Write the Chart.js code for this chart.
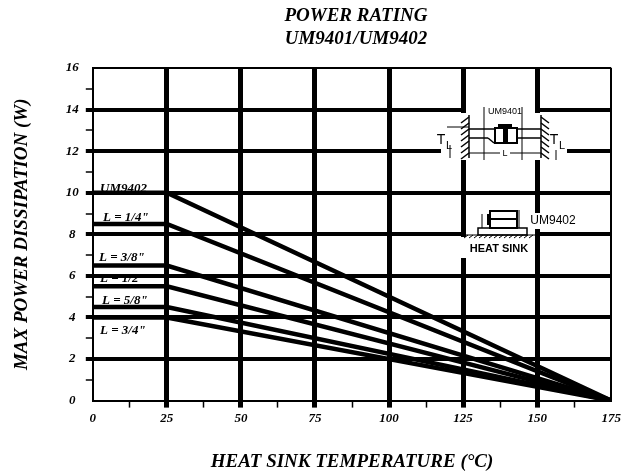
<!DOCTYPE html>
<html>
<head>
<meta charset="utf-8">
<title>Power rating</title>
<script src="https://cdn.jsdelivr.net/npm/chart.js@4"></script>
<style>
    html, body { margin: 0; padding: 0; background: #fff; }
    #wrap { width: 624px; height: 476px; }
</style>
</head>
<body>
<div id="wrap"><canvas id="power_chart" width="624" height="476"></canvas></div>
<script>
/////////////////////////////////// DATA ///////////////////////////////////
const temperature = [0, 25, 175];

const um9402 = [10, 10, 0];
const l_1_4 = [8.5, 8.5, 0];
const l_3_8 = [6.5, 6.5, 0];
const l_1_2 = [5.5, 5.5, 0];
const l_5_8 = [4.5, 4.5, 0];
const l_3_4 = [4, 4, 0];

const seriesNames = ['UM9402', 'L = 1/4"', 'L = 3/8"', 'L = 1/2"', 'L = 5/8"', 'L = 3/4"'];
const seriesValues = [um9402, l_1_4, l_3_8, l_1_2, l_5_8, l_3_4];

const titleLines = ['POWER RATING', 'UM9401/UM9402'];
const xTitle = 'HEAT SINK TEMPERATURE (°C)';
const yTitle = 'MAX POWER DISSIPATION (W)';

/////////////////////////////////// STYLE ///////////////////////////////////
const SERIF = '"Liberation Serif", serif';
const SANS = '"Liberation Sans", sans-serif';
const INK = '#000';

// label position next to each flat part: [left px, centre px]
const labelSpots = [[100, 189], [103, 218], [99, 258], [100, 279], [102, 301], [100, 331]];

/////////////////////////////////// PLUGINS ///////////////////////////////////
// curve names go under the grid, the scan has the grid lines over them
const curveLabels = {
    id: 'curveLabels',
    beforeDraw(chart) {
        const ctx = chart.ctx;
        ctx.save();
        ctx.fillStyle = INK;
        ctx.font = 'italic bold 13px ' + SERIF;
        ctx.textBaseline = 'middle';
        seriesNames.forEach((name, i) => ctx.fillText(name, labelSpots[i][0], labelSpots[i][1]));

        // title sits right of the plot centre in the scan, so not the title plugin
        ctx.font = 'italic bold 19px ' + SERIF;
        ctx.textAlign = 'center';
        ctx.fillText(titleLines[0], 356, 16);
        ctx.fillText(titleLines[1], 356, 39);
        ctx.restore();
    }
};

function hatch(ctx, x1, x2, y, dx, dy, step) {
    for (let x = x1; x <= x2; x += step) {
        ctx.beginPath();
        ctx.moveTo(x, y);
        ctx.lineTo(x + dx, y + dy);
        ctx.stroke();
    }
}

function line(ctx, x1, y1, x2, y2) {
    ctx.beginPath();
    ctx.moveTo(x1, y1);
    ctx.lineTo(x2, y2);
    ctx.stroke();
}

// the two mounting sketches pasted over the grid
const insetSketch = {
    id: 'insetSketch',
    afterDraw(chart) {
        const ctx = chart.ctx;
        ctx.save();
        ctx.fillStyle = '#fff';
        ctx.fillRect(466, 104, 69, 61);
        ctx.fillRect(441, 113, 126, 47);
        ctx.fillRect(466, 205, 69, 53);
        ctx.fillRect(459, 237, 76, 21);
        ctx.fillRect(528, 213, 50, 16);

        ctx.strokeStyle = INK;
        ctx.fillStyle = INK;
        ctx.lineWidth = 1.5;

        // walls
        line(ctx, 469, 115, 469, 158);
        line(ctx, 541, 115, 541, 158);
        for (let y = 117; y <= 157; y += 6) {
            line(ctx, 469, y, 461, y + 6);
            line(ctx, 541, y, 549, y + 6);
        }

        // leads
        line(ctx, 469, 129, 494, 129);
        line(ctx, 469, 138, 488, 138);
        line(ctx, 488, 138, 494, 143);
        line(ctx, 517, 129, 541, 129);
        line(ctx, 517, 138, 541, 138);

        // diode body
        ctx.lineWidth = 2;
        ctx.strokeRect(495, 128, 22, 15);
        ctx.fillRect(498, 124, 14, 4);
        ctx.fillRect(503, 129, 5, 13);

        // dimensions
        ctx.lineWidth = 1;
        line(ctx, 484, 107, 484, 160);
        line(ctx, 522, 107, 522, 160);
        line(ctx, 469, 153, 500, 153);
        line(ctx, 510, 153, 541, 153);
        line(ctx, 447, 127, 469, 127);
        line(ctx, 450, 145, 450, 158);
        line(ctx, 556, 150, 556, 160);

        // UM9402 on its heat sink
        ctx.lineWidth = 1.5;
        ctx.strokeRect(478, 228, 49, 7);
        ctx.lineWidth = 2;
        ctx.strokeRect(490, 211, 27, 17);
        line(ctx, 490, 219, 517, 219);
        line(ctx, 488, 214, 488, 225);
        ctx.lineWidth = 1;
        line(ctx, 482, 214, 482, 228);
        line(ctx, 519, 210, 519, 228);
        line(ctx, 465, 235, 536, 235);
        hatch(ctx, 468, 534, 235, -4, 3, 5);

        ctx.textBaseline = 'middle';
        ctx.textAlign = 'center';
        ctx.font = '9px ' + SANS;
        ctx.fillText('UM9401', 505, 112);
        ctx.fillText('L', 505, 154);
        ctx.font = '14px ' + SANS;
        ctx.fillText('T', 441, 140);
        ctx.fillText('T', 554, 140);
        ctx.font = '11px ' + SANS;
        ctx.fillText('L', 449, 146);
        ctx.fillText('L', 562, 146);
        ctx.font = '12px ' + SANS;
        ctx.fillText('UM9402', 553, 221);
        ctx.font = 'bold 11px ' + SANS;
        ctx.fillText('HEAT SINK', 499, 249);
        ctx.restore();
    }
};

/////////////////////////////////// CHART ///////////////////////////////////
const isMajorX = v => v % 25 === 0;
const isMajorY = v => v % 2 === 0;

const xAtEdge = v => v === 0 || v === 175;
const yAtEdge = v => v === 0 || v === 16;

const power_chart = new Chart(document.getElementById('power_chart'), {
    type: 'line',
    data: {
        datasets: seriesNames.map((name, i) => ({
            label: name,
            data: temperature.map((t, j) => ({ x: t, y: seriesValues[i][j] })),
            borderColor: INK,
            borderWidth: 4.5,
            pointRadius: 0,
            tension: 0,
            fill: false
        }))
    },
    options: {
        responsive: false,
        animation: false,
        layout: { padding: { top: 68, right: 8, bottom: 3, left: 11 } },
        plugins: {
            legend: { display: false },
            tooltip: { enabled: false }
        },
        scales: {
            x: {
                type: 'linear',
                min: 0,
                max: 175,
                afterBuildTicks: axis => {
                    const ticks = [];
                    for (let v = 0; v <= 175; v += 12.5) ticks.push({ value: v });
                    axis.ticks = ticks;
                },
                border: { color: INK, width: 2 },
                grid: {
                    color: c => isMajorX(c.tick.value) ? INK : 'rgba(0,0,0,0)',
                    lineWidth: c => xAtEdge(c.tick.value) ? 2 : 5,
                    tickColor: c => xAtEdge(c.tick.value) ? 'rgba(0,0,0,0)' : INK,
                    tickWidth: c => isMajorX(c.tick.value) ? 5 : 1.5,
                    tickLength: 7
                },
                ticks: {
                    autoSkip: false,
                    maxRotation: 0,
                    color: INK,
                    padding: 3,
                    font: { family: SERIF, size: 13, style: 'italic', weight: 'bold' },
                    callback: v => isMajorX(v) ? String(v) : ''
                },
                title: {
                    display: true,
                    text: xTitle,
                    color: INK,
                    font: { family: SERIF, size: 19, style: 'italic', weight: 'bold' },
                    padding: { top: 21, bottom: 0 }
                }
            },
            y: {
                type: 'linear',
                min: 0,
                max: 16,
                afterBuildTicks: axis => {
                    const ticks = [];
                    for (let v = 0; v <= 16; v += 1) ticks.push({ value: v });
                    axis.ticks = ticks;
                },
                border: { color: INK, width: 2 },
                grid: {
                    color: c => isMajorY(c.tick.value) ? INK : 'rgba(0,0,0,0)',
                    lineWidth: c => yAtEdge(c.tick.value) ? 2 : 4,
                    tickColor: c => yAtEdge(c.tick.value) ? 'rgba(0,0,0,0)' : INK,
                    tickWidth: c => isMajorY(c.tick.value) ? 4 : 1.5,
                    tickLength: 7
                },
                ticks: {
                    autoSkip: false,
                    color: INK,
                    padding: 7,
                    crossAlign: 'center',
                    font: { family: SERIF, size: 13, style: 'italic', weight: 'bold' },
                    callback: v => isMajorY(v) ? String(v) : ''
                },
                title: {
                    display: true,
                    text: yTitle,
                    color: INK,
                    font: { family: SERIF, size: 19, style: 'italic', weight: 'bold' },
                    padding: { top: 0, bottom: 25 }
                }
            }
        }
    },
    plugins: [curveLabels, insetSketch]
});
</script>
</body>
</html>
